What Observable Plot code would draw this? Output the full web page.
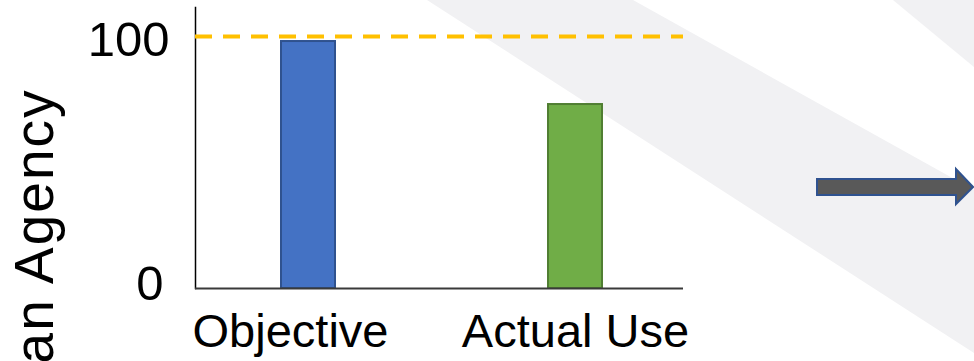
<!DOCTYPE html>
<html>
<head>
<meta charset="utf-8">
<script src="https://cdn.jsdelivr.net/npm/d3@7"></script>
<script src="https://cdn.jsdelivr.net/npm/@observablehq/plot@0.6"></script>
<style>
  html, body { margin: 0; padding: 0; background: #ffffff; overflow: hidden; }
  #wrap { position: relative; width: 974px; height: 361px; overflow: hidden; }
  #deco { position: absolute; left: 0; top: 0; }
  #chart { position: absolute; left: 0; top: 0; }
</style>
</head>
<body>
<div id="wrap">
  <svg id="deco" width="974" height="361" viewBox="0 0 974 361">
    <polygon points="427,0 633,0 974,190 974,353" fill="#f1f1f3"/>
    <polygon points="893,0 974,0 974,67" fill="#f1f1f3"/>
    <polygon points="817,179 956,179 956,169 973,187 956,204 956,195 817,195"
             fill="#595959" stroke="#2f528f" stroke-width="2" stroke-linejoin="miter"/>
  </svg>
  <div id="chart"></div>
</div>
<script>
// ---- data ----
const categories = ["Objective", "Actual Use"];
const values = [98, 73];
const targetValue = [100];
const yTicks = [0, 100];
const yLabel = "Human Agency";

// ---- styles ----
const barFill = ["#4472c4", "#70ad47"];
const barStroke = ["#2f528f", "#507e32"];

const data = categories.map((c, i) => ({category: c, value: values[i], fill: barFill[i], stroke: barStroke[i]}));

const font = "'Liberation Sans', Arial, sans-serif";

const chart = Plot.plot({
  width: 974,
  height: 361,
  marginLeft: 195,
  marginRight: 291,
  marginTop: 7,
  marginBottom: 73,
  style: {background: "transparent", fontFamily: font, color: "black", overflow: "hidden"},
  x: {domain: categories, range: [281, 602.5], paddingInner: 0.798, paddingOuter: 0, axis: null},
  y: {domain: [0, 111.5], axis: null},
  color: {type: "identity"},
  marks: [
    Plot.frame({anchor: "left", stroke: "#000000", strokeWidth: 1.5, strokeOpacity: 1}),
    Plot.barY(data, {x: "category", y: "value", fill: "fill", stroke: "stroke", strokeWidth: 2}),
    Plot.ruleY([0], {stroke: "#3a3a3a", strokeWidth: 1.8}),
    Plot.ruleY(targetValue, {stroke: "#ffc000", strokeWidth: 4, strokeDasharray: "17,11"}),
    Plot.axisY([yTicks[1]], {tickSize: 0, tickPadding: 26, dy: 4, fontSize: 49, label: null, tickFormat: d => String(d)}),
    Plot.axisY([yTicks[0]], {tickSize: 0, tickPadding: 32, dy: -4, fontSize: 49, label: null, tickFormat: d => String(d)}),
    Plot.axisX([categories[0]], {tickSize: 0, tickPadding: 25, dx: -18, fontSize: 47, label: null}),
    Plot.axisX([categories[1]], {tickSize: 0, tickPadding: 25, fontSize: 47, label: null}),
    Plot.text([yLabel], {frameAnchor: "top-left", rotate: -90, textAnchor: "end", lineAnchor: "bottom",
                         dx: -143, dy: 81, fontSize: 55, fill: "black", className: "ylabel"})
  ]
});
d3.select(chart).selectAll(".ylabel text").style("letter-spacing", "2px");
document.getElementById("chart").appendChild(chart);
</script>
</body>
</html>
